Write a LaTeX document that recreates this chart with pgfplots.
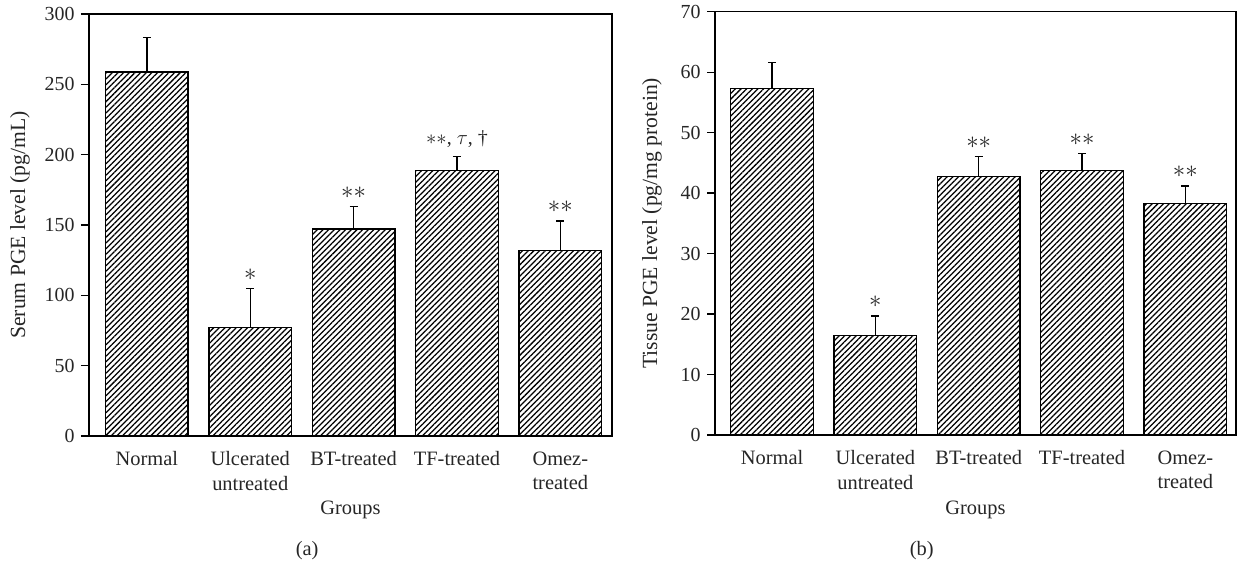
\documentclass[border=0pt]{standalone}
\usepackage{pgfplots}
\pgfplotsset{compat=1.18}
\usepackage{fontspec}
\setmainfont{Liberation Serif}
\usetikzlibrary{patterns.meta}
\tikzset{
  ann/.style={font=\fontsize{20}{22}\selectfont, color=black!85, anchor=south, inner sep=0pt, yshift=9bp},
  annb/.style={font=\fontsize{25}{27}\selectfont, color=black!85, anchor=south, inner sep=0pt, yshift=8bp},
}
\pgfplotsset{
  hbar/.style={draw=black, line width=1.3bp,
      pattern={Lines[angle=45,distance=4bp,line width=1.25bp]},
      error bars/y dir=plus, error bars/y explicit,
      error bars/error bar style={line width=1.3bp, black},
      error bars/error mark options={rotate=90, mark size=4bp, line width=1.3bp, black}},
}
\begin{document}
\begin{tikzpicture}
\useasboundingbox (0,0) rectangle (1237bp,564bp);
\pgfplotsset{
  pge/.style={
    scale only axis,
    ybar, bar width=82.5bp,
    ymin=0,
    clip=false,
    axis line style={line width=1.3bp, black},
    xtick={0,1,2,3,4},
    xticklabels={Normal,{Ulcerated\\untreated},BT-treated,TF-treated,{Omez-\\treated}},
    xtick style={draw=none},
    ytick pos=left,
    tick align=outside,
    major tick length=8bp,
    ytick style={line width=1.3bp, black},
    /pgf/number format/assume math mode=true,
    yticklabel style={font=\fontsize{20}{22}\selectfont, color=black!85, xshift=-3bp},
    xticklabel style={align=center, font=\fontsize{20.5}{24.7}\selectfont, color=black!85, yshift=-4bp},
    xlabel={Groups},
    xlabel style={font=\fontsize{20.5}{24.7}\selectfont, color=black!85, anchor=center},
    ylabel style={font=\fontsize{21.7}{24}\selectfont, color=black!85, anchor=center, rotate=0},
  }
}
% ---------------- panel (a)
\begin{axis}[pge, at={(89bp,128bp)}, anchor=south west,
  width=523bp, height=422bp,
  xmin=-0.56, xmax=4.5, ymax=300, ytick={0,50,...,300},
  ylabel={Serum PGE level (pg/mL)},
  xlabel style={at={(axis description cs:0.5,-0.175)}},
  ylabel style={at={(axis description cs:-0.132,0.5)}},
]
\addplot[hbar] coordinates {
  (0,258.7) +- (0,24.7)
  (1,77.3) +- (0,27.7)
  (2,147.1) +- (0,16.0)
  (3,188.8) +- (0,10.0)
  (4,132.0) +- (0,20.8)
};
\node[annb] at (axis cs:1,105) {$\ast$};
\node[annb] at (axis cs:2,163.1) {$\ast\ast$};
\node[ann] at (axis cs:3,198.8) {$\ast\ast$, $\tau$, \textdagger};
\node[annb] at (axis cs:4,152.8) {$\ast\ast$};
\node[font=\fontsize{20.5}{24.7}\selectfont, color=black!85] at (axis description cs:0.417,-0.2725) {(a)};
\end{axis}
% ---------------- panel (b)
\begin{axis}[pge, at={(715bp,129bp)}, anchor=south west,
  width=521bp, height=423.3bp,
  xmin=-0.552, xmax=4.49, ymax=70, ytick={0,10,...,70},
  ylabel={Tissue PGE level (pg/mg protein)},
  xlabel style={at={(axis description cs:0.5,-0.177)}},
  ylabel style={at={(axis description cs:-0.121,0.5)}},
]
\addplot[hbar] coordinates {
  (0,57.3) +- (0,4.3)
  (1,16.5) +- (0,3.2)
  (2,42.8) +- (0,3.2)
  (3,43.7) +- (0,2.9)
  (4,38.3) +- (0,2.9)
};
\node[annb] at (axis cs:1,19.7) {$\ast$};
\node[annb] at (axis cs:2,46.0) {$\ast\ast$};
\node[annb] at (axis cs:3,46.6) {$\ast\ast$};
\node[annb] at (axis cs:4,41.2) {$\ast\ast$};
\node[font=\fontsize{20.5}{24.7}\selectfont, color=black!85] at (axis description cs:0.397,-0.274) {(b)};
\end{axis}
\end{tikzpicture}
\end{document}
